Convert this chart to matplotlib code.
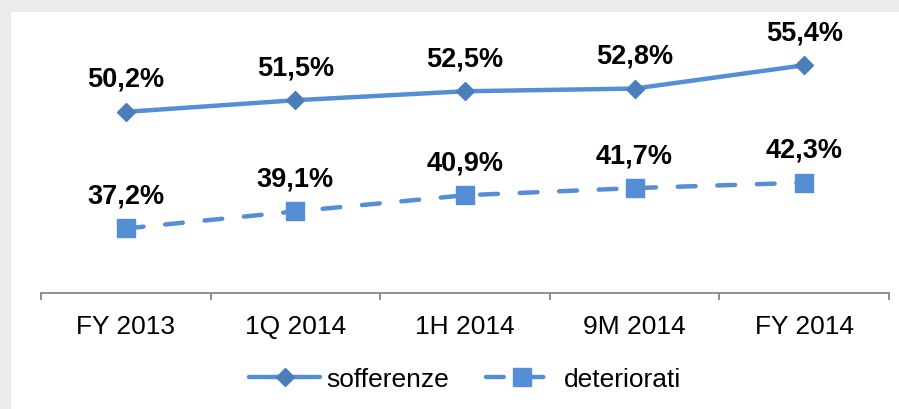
import matplotlib.pyplot as plt
from matplotlib.patches import Rectangle

plt.rcParams['font.family'] = ['Liberation Sans', 'DejaVu Sans']

# --- data ---
periods = ["FY 2013", "1Q 2014", "1H 2014", "9M 2014", "FY 2014"]
sofferenze = [50.2, 51.5, 52.5, 52.8, 55.4]
deteriorati = [37.2, 39.1, 40.9, 41.7, 42.3]
series_names = ["sofferenze", "deteriorati"]

line_col = "#558ED5"
diamond_col = "#4A7EBB"
axis_col = "#868686"

W, H = 899, 410
fig = plt.figure(figsize=(W / 100, H / 100), dpi=100, facecolor="#EBEBEB")

# white chart area on the grey frame
fig.patches.append(Rectangle((11 / W, 0), 1, 1 - 13 / H, transform=fig.transFigure,
                             facecolor="white", edgecolor="none", zorder=-5))

ax = fig.add_axes([41 / W, 1 - 294 / H, 848 / W, 269 / H])
ax.set_facecolor("none")
ax.set_zorder(2)

x = list(range(len(periods)))
lw = 3.2

ax.plot(x, sofferenze, color=line_col, lw=lw, marker="D", markersize=8.7,
        markerfacecolor=diamond_col, markeredgecolor=diamond_col,
        solid_capstyle="round", label=series_names[0], zorder=3)
ax.plot(x, deteriorati, color=line_col, lw=lw, linestyle=(0, (4.0, 4.9)),
        dash_capstyle="round", marker="s", markersize=13.5,
        markerfacecolor=line_col, markeredgecolor=line_col,
        label=series_names[1], zorder=3)

# data labels
for vals in (sofferenze, deteriorati):
    for xi, v in zip(x, vals):
        ax.annotate(f"{v:.1f}%".replace(".", ","), (xi, v), xytext=(0, 18.7),
                    textcoords="offset points", ha="center", va="baseline",
                    fontsize=19.5, fontweight="bold", color="black")

ax.set_xlim(-0.5, len(periods) - 0.5)
ax.set_ylim(30, 60)

for s in ["top", "right", "left"]:
    ax.spines[s].set_visible(False)
ax.spines["bottom"].set_color(axis_col)
ax.spines["bottom"].set_linewidth(1.3)

ax.set_yticks([])
ax.set_xticks(x)
ax.set_xticklabels(periods, fontsize=19)
ax.tick_params(axis="x", which="major", length=0, pad=15)
ax.set_xticks([i - 0.5 for i in range(len(periods) + 1)], minor=True)
ax.tick_params(axis="x", which="minor", length=5, width=1.3, color=axis_col, direction="out")

fig.legend(loc="center", bbox_to_anchor=(465 / W, 1 - 380 / H), ncol=2, frameon=False,
           fontsize=19, handlelength=2.7, handletextpad=0.23, columnspacing=1.4,
           borderpad=0, borderaxespad=0)

fig.savefig("out.png", dpi=100, facecolor=fig.get_facecolor())
